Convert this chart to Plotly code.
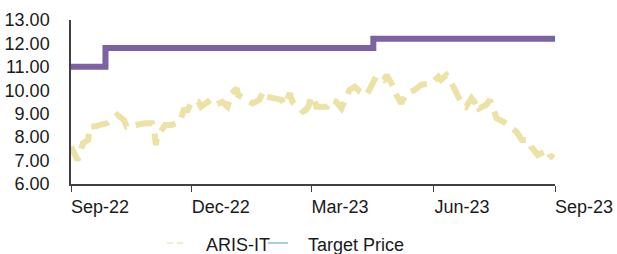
import plotly.graph_objects as go

price_dates = [
    "2022-09-01", "2022-09-06", "2022-09-10", "2022-09-14", "2022-09-15", "2022-09-19",
    "2022-09-23", "2022-09-28", "2022-10-06", "2022-10-11", "2022-10-13", "2022-10-18",
    "2022-10-27", "2022-11-01", "2022-11-03", "2022-11-04", "2022-11-05", "2022-11-11",
    "2022-11-16", "2022-11-22", "2022-11-25", "2022-11-28", "2022-12-01", "2022-12-06",
    "2022-12-08", "2022-12-13", "2022-12-16", "2022-12-24", "2022-12-28", "2022-12-31",
    "2023-01-04", "2023-01-05", "2023-01-11", "2023-01-16", "2023-01-21", "2023-01-24",
    "2023-01-26", "2023-02-07", "2023-02-09", "2023-02-13", "2023-02-15", "2023-02-23",
    "2023-02-25", "2023-02-27", "2023-03-01", "2023-03-03", "2023-03-05", "2023-03-13",
    "2023-03-16", "2023-03-20", "2023-03-24", "2023-03-30", "2023-04-03", "2023-04-07",
    "2023-04-12", "2023-04-19", "2023-04-25", "2023-04-27", "2023-05-02", "2023-05-03",
    "2023-05-08", "2023-05-12", "2023-05-18", "2023-05-23", "2023-05-31", "2023-06-05",
    "2023-06-07", "2023-06-11", "2023-06-15", "2023-06-22", "2023-06-26", "2023-06-30",
    "2023-07-02", "2023-07-05", "2023-07-06", "2023-07-11", "2023-07-14", "2023-07-16",
    "2023-07-19", "2023-07-24", "2023-08-03", "2023-08-07", "2023-08-12", "2023-08-14",
    "2023-08-19", "2023-08-27", "2023-08-28", "2023-08-31",
]
price_values = [
    7.59, 7.02, 7.74, 7.88, 8.45, 8.45,
    8.52, 8.59, 8.95, 8.73, 8.45, 8.52,
    8.59, 8.59, 8.16, 7.66, 8.02, 8.52,
    8.52, 8.66, 9.16, 9.16, 9.51, 9.51,
    9.30, 9.51, 9.30, 9.51, 9.30, 9.87,
    10.08, 9.80, 9.59, 9.44, 9.59, 9.94,
    9.73, 9.59, 9.37, 9.87, 9.51, 9.09,
    9.16, 9.30, 9.73, 9.66, 9.30, 9.30,
    9.59, 9.51, 9.23, 10.01, 10.15, 9.94,
    9.80, 10.58, 10.44, 10.65, 10.15, 9.94,
    9.44, 9.87, 10.01, 10.23, 10.30, 10.58,
    10.44, 10.65, 10.30, 9.51, 9.30, 9.66,
    9.51, 9.59, 9.23, 9.37, 9.59, 9.30,
    8.80, 8.66, 8.23, 7.88, 7.88, 7.59,
    7.24, 7.45, 7.24, 7.10,
]

target_dates = ["2022-09-01", "2022-09-27", "2023-04-17", "2023-09-01"]
target_values = [11.0, 11.8, 12.2, 12.2]

tick_dates = ["2022-09-01", "2022-12-01", "2023-03-01", "2023-06-01", "2023-09-01"]
tick_labels = ["Sep-22", "Dec-22", "Mar-23", "Jun-23", "Sep-23"]
y_ticks = [6, 7, 8, 9, 10, 11, 12, 13]

series_names = ["ARIS-IT", "Target Price"]

PRICE_COLOR = "#ECE2A6"
TARGET_COLOR = "#7D62A3"
FONT = "Liberation Sans, Arial, sans-serif"

fig = go.Figure()
fig.add_trace(go.Scatter(
    x=price_dates, y=price_values, mode="lines", name=series_names[0], showlegend=False,
    line=dict(color=PRICE_COLOR, width=6, dash="18px,9px"),
))
fig.add_trace(go.Scatter(
    x=target_dates, y=target_values, mode="lines", name=series_names[1], showlegend=False,
    line=dict(color=TARGET_COLOR, width=6, shape="hv"),
))
fig.add_trace(go.Scatter(
    x=target_dates[-1:], y=target_values[-1:], mode="markers", showlegend=False,
    marker=dict(color="#2C86A8", size=4),
))

# legend drawn by hand below the axis (paper coordinates)
PW, PH = 484.0, 164.0
def px_x(p):
    return (p - 71) / PW
def px_y(p):
    return (184 - p) / PH

leg_y = 243
fig.add_shape(type="line", xref="paper", yref="paper",
              x0=px_x(167), x1=px_x(187), y0=px_y(leg_y), y1=px_y(leg_y),
              line=dict(color="#F2ECD0", width=2, dash="6px,4px"))
fig.add_shape(type="line", xref="paper", yref="paper",
              x0=px_x(268), x1=px_x(288), y0=px_y(leg_y), y1=px_y(leg_y),
              line=dict(color="#A9CFDA", width=2))
fig.add_annotation(xref="paper", yref="paper", x=px_x(204), y=px_y(leg_y + 2),
                   text=series_names[0], showarrow=False, xanchor="left", yanchor="middle",
                   font=dict(size=18, color="#1a1a1a"))
fig.add_annotation(xref="paper", yref="paper", x=px_x(306), y=px_y(leg_y + 2),
                   text=series_names[1], showarrow=False, xanchor="left", yanchor="middle",
                   font=dict(size=18, color="#1a1a1a"))

fig.update_layout(
    width=617, height=254,
    margin=dict(l=71, r=62, t=20, b=70),
    paper_bgcolor="white", plot_bgcolor="white",
    font=dict(family=FONT, size=18, color="#1a1a1a"),
    showlegend=False,
    xaxis=dict(
        type="date", range=["2022-09-01", "2023-09-01"],
        tickvals=tick_dates, ticktext=tick_labels,
        ticks="outside", ticklen=6, tickcolor="#404040", tickwidth=1,
        showline=True, linecolor="#404040", linewidth=1.5,
        showgrid=False, zeroline=False, ticklabelshift=29, ticklabelstandoff=0,
        tickfont=dict(size=18), automargin=False,
    ),
    yaxis=dict(
        range=[6, 13], tickvals=y_ticks, tickformat=".2f",
        showline=True, linecolor="#404040", linewidth=1.5,
        showgrid=False, zeroline=False, ticks="", ticklabelstandoff=16,
        tickfont=dict(size=18), automargin=False,
    ),
)

fig.write_html(
    "out.html",
    config={"displayModeBar": False},
    post_script="document.body.style.margin='0';document.body.style.overflow='hidden';",
)
